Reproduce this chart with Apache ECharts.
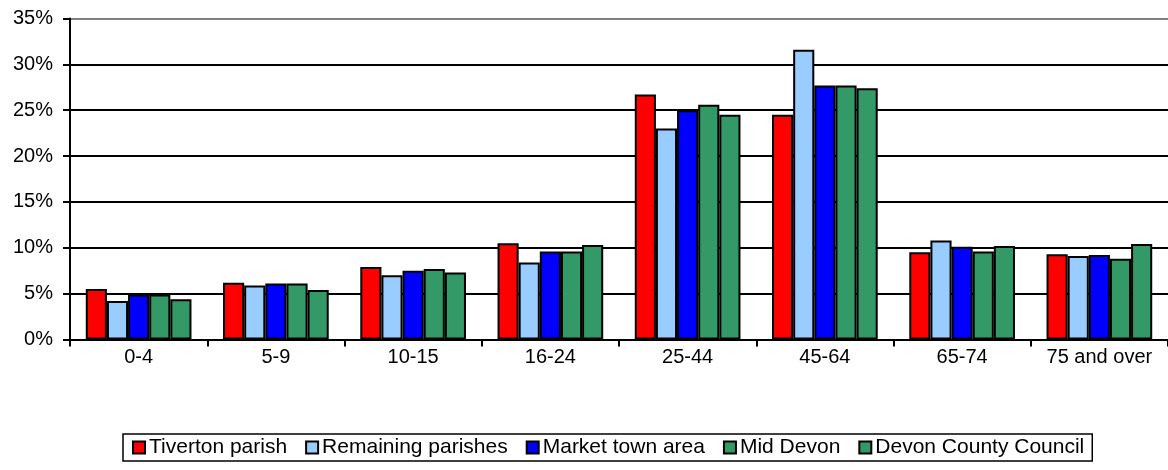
<!DOCTYPE html>
<html>
<head>
<meta charset="utf-8">
<script src="https://cdn.jsdelivr.net/npm/echarts@6/dist/echarts.min.js"></script>
<style>
html,body{margin:0;padding:0;background:#fff;}
#chart{width:1168px;height:470px;}
</style>
</head>
<body>
<div id="chart"></div>
<script>
const categories = ['0-4','5-9','10-15','16-24','25-44','45-64','65-74','75 and over'];
const seriesNames = ['Tiverton parish','Remaining parishes','Market town area','Mid Devon','Devon County Council'];
const seriesColors = ['#FF0000','#99CCFF','#0000FF','#339966','#339966'];
const tiverton = [5.5, 6.2, 7.9, 10.5, 26.7, 24.5, 9.5, 9.3];
const remaining = [4.2, 5.9, 7.0, 8.4, 23.0, 31.6, 10.8, 9.1];
const marketTown = [4.9, 6.1, 7.5, 9.6, 25.0, 27.7, 10.1, 9.2];
const midDevon = [4.9, 6.1, 7.7, 9.6, 25.6, 27.7, 9.6, 8.8];
const devonCC = [4.4, 5.4, 7.3, 10.3, 24.5, 27.4, 10.2, 10.4];
const seriesValues = [tiverton, remaining, marketTown, midDevon, devonCC];

const FONT = 'Liberation Sans, Arial, sans-serif';
const chart = echarts.init(document.getElementById('chart'), null, {renderer:'canvas'});
chart.setOption({
  animation:false,
  backgroundColor:'#fff',
  grid:{left:70, right:-2, top:18.5, bottom:130.5, containLabel:false},
  legend:{
    left:123, top:434,
    data:seriesNames,
    icon:'rect',
    itemWidth:12, itemHeight:12, itemGap:18,
    padding:[3,8,3,9],
    borderColor:'#000', borderWidth:1.5,
    textStyle:{fontFamily:FONT, fontSize:21, color:'#000', padding:[0,0,0,-1]}
  },
  xAxis:{
    type:'category',
    data:categories,
    boundaryGap:true,
    axisLine:{lineStyle:{color:'#000', width:2}},
    axisTick:{show:true, length:7, lineStyle:{color:'#000', width:2}},
    axisLabel:{fontFamily:FONT, fontSize:20, color:'#000', margin:8, interval:0}
  },
  yAxis:{
    type:'value', min:0, max:35, interval:5,
    axisLine:{show:true, lineStyle:{color:'#000', width:2}},
    axisTick:{show:true, length:7, lineStyle:{color:'#000', width:2}},
    axisLabel:{fontFamily:FONT, fontSize:20, color:'#000', margin:17, formatter:'{value}%'},
    splitLine:{show:true, lineStyle:{color:['#000','#000','#000','#000','#000','#000','#000','#808080'], width:2}}
  },
  series: seriesNames.map((n,i)=>({
    name:n, type:'bar', data:seriesValues[i],
    barGap:'0%', barCategoryGap:'23%',
    itemStyle:{color:seriesColors[i], borderColor:'#000', borderWidth:2}
  }))
});
</script>
</body>
</html>
